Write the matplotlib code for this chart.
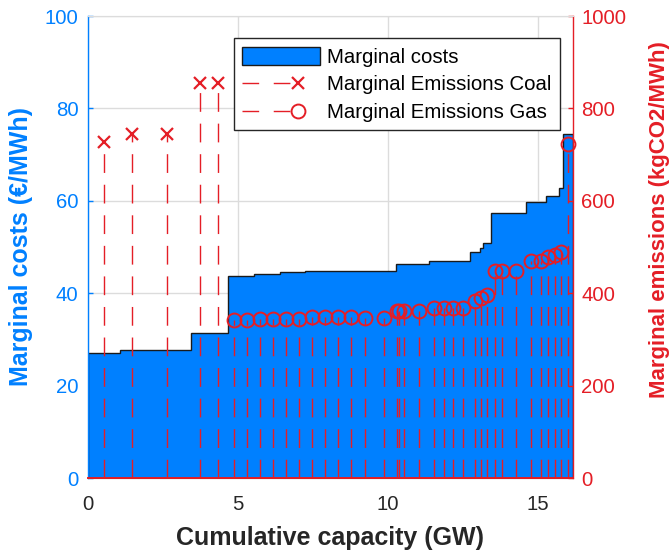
import numpy as np
import matplotlib
matplotlib.use("Agg")
import matplotlib.pyplot as plt
from matplotlib.lines import Line2D
from matplotlib.patches import Patch
from matplotlib.legend_handler import HandlerBase

plt.rcParams['font.family'] = ['Liberation Sans', 'DejaVu Sans']

# ---- data -------------------------------------------------------------
coal_capacity = [1.07, 0.80, 1.56, 0.60, 0.63]            # GW
coal_cost = [27.0, 27.6, 27.6, 31.3, 31.3]                 # EUR/MWh
coal_emissions = [728, 745, 745, 856, 856]                 # kgCO2/MWh

gas_capacity = [0.435, 0.435, 0.435, 0.435, 0.425, 0.425, 0.44, 0.44, 0.44, 0.44,
                0.44, 0.84, 0.04, 0.08, 0.29, 0.68, 0.30, 0.42, 0.14, 0.52,
                0.31, 0.11, 0.28, 0.24, 0.24, 0.68, 0.34, 0.33, 0.14, 0.28,
                0.13, 0.34]
gas_cost = [43.8, 43.8, 44.2, 44.2, 44.5, 44.5, 44.7, 44.7, 44.7, 44.7,
            44.7, 44.7, 46.4, 46.4, 46.4, 46.4, 47.0, 47.0, 47.0, 47.0,
            48.9, 49.7, 50.8, 57.3, 57.3, 57.3, 59.8, 59.8, 61.1, 61.1,
            62.7, 74.4]
gas_emissions = [342, 342, 344, 344, 345, 345, 348, 348, 348, 348,
                 347, 347, 361, 361, 361, 361, 367, 367, 367, 367,
                 383, 389, 396, 449, 449, 449, 470, 470, 479, 483,
                 490, 722]

x_ticks = [0, 5, 10, 15]
cost_ticks = [0, 20, 40, 60, 80, 100]
emission_ticks = [0, 200, 400, 600, 800, 1000]

legend_labels = ['Marginal costs', 'Marginal Emissions Coal', 'Marginal Emissions Gas']

# ---- styles -----------------------------------------------------------
BLUE = '#0080FF'
RED = '#E41E26'
DARK = '#262626'
GRID = '#DCDCDC'
TICK_FS = 14.7
LABEL_FS = 18
STEM_DASH = (0, (13.5, 8.5))

capacity = np.array(coal_capacity + gas_capacity)
cost = np.array(coal_cost + gas_cost)
edges = np.concatenate([[0.0], np.cumsum(capacity)])
mids = edges[:-1] + capacity / 2
n_coal = len(coal_capacity)
coal_mid = mids[:n_coal]
gas_mid = mids[n_coal:]

fig = plt.figure(figsize=(6.71, 5.51), dpi=100)
ax = fig.add_axes([88 / 671, 1 - 478 / 551, 485 / 671, 462 / 551])

ax.stairs(cost, edges, fill=True, facecolor=BLUE, edgecolor='#1a1a1a',
          linewidth=1.0, zorder=2, baseline=0)
ax.set_xlim(0, edges[-1])
ax.set_ylim(0, 100)
ax.set_xticks(x_ticks)
ax.set_yticks(cost_ticks)
ax.grid(True, color=GRID, linewidth=1.0, zorder=0)
ax.set_axisbelow(True)

ax.spines['left'].set_color(BLUE)
ax.spines['left'].set_linewidth(1.0)
ax.spines['right'].set_visible(False)
ax.spines['top'].set_color(GRID)
ax.spines['bottom'].set_color(DARK)
ax.tick_params(axis='y', direction='in', length=3.6, width=1.0, colors=BLUE,
               labelsize=TICK_FS, pad=7)
ax.tick_params(axis='x', direction='in', length=0, labelsize=TICK_FS,
               labelcolor=DARK, pad=12)
ax.set_xlabel('Cumulative capacity (GW)', fontsize=LABEL_FS, fontweight='bold',
              color=DARK, labelpad=9)

ax2 = ax.twinx()
ax2.set_ylim(0, 1000)
ax2.set_yticks(emission_ticks)
ax2.vlines(mids[:n_coal], 0, coal_emissions, colors=RED, linestyles=[STEM_DASH],
           linewidth=1.0, zorder=2)
ax2.vlines(mids[n_coal:], 0, gas_emissions, colors=RED, linestyles=[STEM_DASH],
           linewidth=1.0, zorder=2)
ax2.plot(coal_mid, coal_emissions, linestyle='none', marker='x', ms=8.5, mew=1.6,
         color=RED, clip_on=False, zorder=3)
ax2.plot(gas_mid, gas_emissions, linestyle='none', marker='o', ms=10, mew=1.4,
         mfc='none', mec=RED, clip_on=False, zorder=3)
ax2.axhline(0, color=RED, linewidth=1.4, zorder=3, clip_on=False)

for s in ['left', 'bottom']:
    ax2.spines[s].set_visible(False)
ax2.spines['top'].set_color(GRID)
ax2.spines['right'].set_color(RED)
ax2.spines['right'].set_linewidth(1.0)
ax2.tick_params(axis='y', direction='in', length=3.6, width=1.0, colors=RED,
                labelsize=TICK_FS, pad=6)

fig.text(21 / 671, 1 - 247 / 551, 'Marginal costs (€/MWh)', rotation=90,
         ha='center', va='center', color=BLUE, fontsize=LABEL_FS, fontweight='bold')
fig.text(659 / 671, 1 - 220 / 551, 'Marginal emissions (kgCO2/MWh)', rotation=90,
         ha='center', va='center', color=RED, fontsize=16, fontweight='bold')


class StemLegendHandler(HandlerBase):
    def create_artists(self, legend, orig_handle, xdescent, ydescent, width,
                       height, fontsize, trans):
        y = height / 2 - ydescent
        x0 = -xdescent
        xm = x0 + 0.72 * width
        line = Line2D([x0, xm], [y, y], color=orig_handle.get_color(),
                      linestyle=(0, (12, 10.5)), linewidth=1.0)
        mk = Line2D([xm], [y], linestyle='none', marker=orig_handle.get_marker(),
                    ms=orig_handle.get_markersize(), mew=orig_handle.get_markeredgewidth(),
                    mfc=orig_handle.get_markerfacecolor(), mec=orig_handle.get_markeredgecolor())
        line.set_transform(trans)
        mk.set_transform(trans)
        return [line, mk]


h_cost = Patch(facecolor=BLUE, edgecolor='#1a1a1a', linewidth=1.0)
h_coal = Line2D([], [], color=RED, marker='x', ms=8.5, mew=1.6, mec=RED)
h_gas = Line2D([], [], color=RED, marker='o', ms=10, mew=1.4, mfc='none', mec=RED)
leg = ax2.legend([h_cost, h_coal, h_gas], legend_labels,
                 handler_map={h_coal: StemLegendHandler(), h_gas: StemLegendHandler()},
                 loc='upper right', bbox_to_anchor=(0.973, 0.952), borderaxespad=0,
                 fontsize=14.7, frameon=True, fancybox=False, framealpha=1,
                 edgecolor=DARK, handlelength=3.8, handleheight=1.0,
                 handletextpad=0.35, labelspacing=0.36, borderpad=0.42)
leg.get_frame().set_linewidth(1.0)
leg.set_zorder(10)

fig.savefig('out.png', dpi=100)
